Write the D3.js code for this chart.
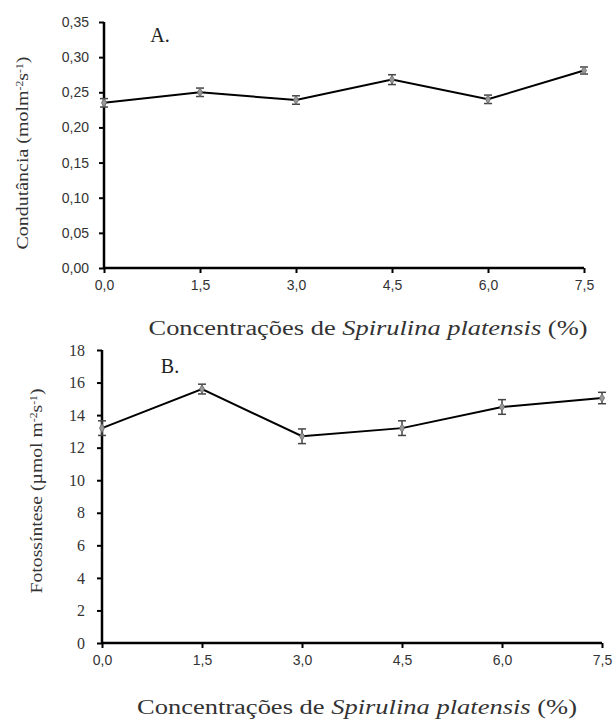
<!DOCTYPE html>
<html>
<head>
<meta charset="utf-8">
<script src="https://cdn.jsdelivr.net/npm/d3@7"></script>
<style>
    body { margin: 0; background: #fff; }
    svg { display: block; }
    .tick text { fill: #333; }
</style>
</head>
<body>
<div class="chart"></div>
<script>
    'use strict';

    // concentrations of Spirulina platensis (%)
    const concentracoes = [0, 1.5, 3, 4.5, 6, 7.5];
    const xTicks = [0, 1.5, 3, 4.5, 6, 7.5];

    // panel A: stomatal conductance
    const condutancia = [0.235, 0.250, 0.239, 0.268, 0.240, 0.281];
    const condutanciaErro = [0.006, 0.006, 0.006, 0.007, 0.006, 0.005];
    const ticksA = [0, 0.05, 0.10, 0.15, 0.20, 0.25, 0.30, 0.35];

    // panel B: photosynthesis
    const fotossintese = [13.2, 15.6, 12.7, 13.2, 14.5, 15.05];
    const fotossinteseErro = [0.45, 0.3, 0.45, 0.45, 0.45, 0.35];
    const ticksB = [0, 2, 4, 6, 8, 10, 12, 14, 16, 18];

    const svg = d3.select('.chart').append('svg')
        .attr('width', 616)
        .attr('height', 719);

    const comma = function (digits) {
        return function (d) {
            return d.toFixed(digits).replace('.', ',');
        };
    };

    function panel(opts) {
        const x = d3.scaleLinear().domain([0, 7.5]).range(opts.xRange);
        const y = d3.scaleLinear().domain(opts.yDomain).range(opts.yRange);

        const g = svg.append('g');

        const yAxis = g.append('g')
            .attr('transform', 'translate(' + opts.xRange[0] + ',0)')
            .call(d3.axisLeft(y).tickValues(opts.yTicks).tickSize(5).tickPadding(opts.yPad).tickFormat(opts.yFormat));
        yAxis.select('.domain').attr('stroke-width', 2.5).attr('d', 'M0,' + opts.yRange[0] + 'V' + opts.yRange[1]);
        yAxis.selectAll('line').attr('stroke-width', 2);
        yAxis.selectAll('text').style('font-family', opts.yFont).style('font-size', opts.yFontSize);

        const xAxis = g.append('g')
            .attr('transform', 'translate(0,' + opts.yRange[0] + ')')
            .call(d3.axisBottom(x).tickValues(xTicks).tickSize(5).tickPadding(7).tickFormat(comma(1)));
        xAxis.select('.domain').attr('stroke-width', 2.5).attr('d', 'M' + opts.xRange[0] + ',0H' + opts.xRange[1]);
        xAxis.selectAll('line').attr('stroke-width', 2);
        xAxis.selectAll('text').style('font-family', 'Liberation Sans').style('font-size', '14px');

        const line = d3.line()
            .x(function (d, i) { return x(concentracoes[i]); })
            .y(function (d) { return y(d); });

        g.append('path')
            .datum(opts.values)
            .attr('fill', 'none')
            .attr('stroke', '#000')
            .attr('stroke-width', 2)
            .attr('d', line);

        const pts = g.append('g').selectAll('g')
            .data(opts.values)
            .enter().append('g')
            .attr('transform', function (d, i) {
                return 'translate(' + x(concentracoes[i]) + ',0)';
            });

        pts.append('line')
            .attr('y1', function (d, i) { return y(d - opts.errors[i]); })
            .attr('y2', function (d, i) { return y(d + opts.errors[i]); })
            .attr('stroke', '#444').attr('stroke-width', 1.5);
        [-1, 1].forEach(function (s) {
            pts.append('line')
                .attr('x1', -4).attr('x2', 4)
                .attr('y1', function (d, i) { return y(d + s * opts.errors[i]); })
                .attr('y2', function (d, i) { return y(d + s * opts.errors[i]); })
                .attr('stroke', '#444').attr('stroke-width', 1.5);
        });
        pts.append('path')
            .attr('d', d3.symbol().type(d3.symbolDiamond).size(22))
            .attr('transform', function (d) { return 'translate(0,' + y(d) + ')'; })
            .attr('fill', '#999').attr('stroke', '#666').attr('stroke-width', 0.8);

        g.append('text')
            .attr('x', opts.letter[0]).attr('y', opts.letter[1])
            .attr('text-anchor', 'middle')
            .style('font-family', 'Liberation Serif').style('font-size', '20px')
            .attr('fill', '#222')
            .text(opts.letterText);

        g.append('text')
            .attr('transform', 'translate(' + opts.yLabel[0] + ',' + opts.yLabel[1] + ') rotate(-90)')
            .attr('text-anchor', 'middle')
            .attr('dy', '0.35em')
            .attr('textLength', opts.yLabel[2]).attr('lengthAdjust', 'spacingAndGlyphs')
            .style('font-family', 'Liberation Serif').style('font-size', '17px')
            .attr('fill', '#333')
            .html(opts.yLabelHtml);

        const xl = g.append('text')
            .attr('x', opts.xLabel[0]).attr('y', opts.xLabel[1])
            .attr('text-anchor', 'middle')
            .attr('dy', '0.35em')
            .attr('textLength', opts.xLabel[2]).attr('lengthAdjust', 'spacingAndGlyphs')
            .style('font-family', 'Liberation Serif').style('font-size', '20px')
            .attr('fill', '#333');
        xl.append('tspan').text('Concentrações de ');
        xl.append('tspan').style('font-style', 'italic').text('Spirulina platensis');
        xl.append('tspan').text(' (%)');
    }

    panel({
        xRange: [104, 584],
        yRange: [268, 22],
        yDomain: [0, 0.35],
        yTicks: ticksA,
        yFormat: comma(2),
        yFont: 'Liberation Sans',
        yFontSize: '14px',
        yPad: 10,
        values: condutancia,
        errors: condutanciaErro,
        letter: [160, 42],
        letterText: 'A.',
        yLabel: [22, 153, 193],
        yLabelHtml: 'Condutância (molm<tspan dy="-5" font-size="10px">-2</tspan><tspan dy="5">s</tspan><tspan dy="-5" font-size="10px">-1</tspan><tspan dy="5">)</tspan>',
        xLabel: [368, 328, 439]
    });

    panel({
        xRange: [102, 602],
        yRange: [643, 350],
        yDomain: [0, 18],
        yTicks: ticksB,
        yFormat: d3.format('d'),
        yFont: 'Liberation Serif',
        yFontSize: '16px',
        yPad: 12,
        values: fotossintese,
        errors: fotossinteseErro,
        letter: [170, 373],
        letterText: 'B.',
        yLabel: [36, 491, 205],
        yLabelHtml: 'Fotossíntese (µmol m<tspan dy="-5" font-size="10px">-2</tspan><tspan dy="5">s</tspan><tspan dy="-5" font-size="10px">-1</tspan><tspan dy="5">)</tspan>',
        xLabel: [357, 707, 440]
    });
</script>
</body>
</html>
